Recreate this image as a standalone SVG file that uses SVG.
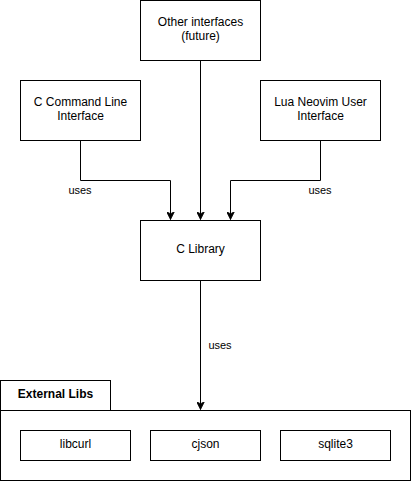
<svg xmlns="http://www.w3.org/2000/svg" width="411" height="481" viewBox="0 0 411 481">
<style>
.box{fill:#fff;stroke:#000;stroke-width:1}
.t{font-family:"Liberation Sans",Arial,sans-serif;font-size:12px;fill:#000;text-anchor:middle}
.b{font-weight:bold}
.lbl{font-family:"Liberation Sans",Arial,sans-serif;font-size:11px;fill:#000;text-anchor:middle}
.e{fill:none;stroke:#000;stroke-width:1}
</style>
<defs>
<marker id="arr" viewBox="0 0 10 10" refX="10" refY="5" markerWidth="8" markerHeight="8" markerUnits="userSpaceOnUse" orient="auto">
<path d="M0,0 L10,5 L0,10 L3,5 Z" fill="#000" stroke="#000" stroke-width="1"/>
</marker>
</defs>
<rect width="411" height="481" fill="#fff"/>
<g id="edges">
<path class="e" d="M80.5,140.5 V180.5 H170.5 V219.5" marker-end="url(#arr)"/>
<path class="e" d="M200.5,60.5 V219.5" marker-end="url(#arr)"/>
<path class="e" d="M320.5,140.5 V180.5 H230.5 V219.5" marker-end="url(#arr)"/>
<path class="e" d="M200.5,280.5 V409.5" marker-end="url(#arr)"/>
<text class="lbl" x="80" y="194">uses</text>
<text class="lbl" x="320" y="194">uses</text>
<text class="lbl" x="220" y="349">uses</text>
</g>
<g id="other">
<rect class="box" x="140.5" y="0.5" width="120" height="60"/>
<text class="t" x="200.5" y="26">Other interfaces</text>
<text class="t" x="200.5" y="40">(future)</text>
</g>
<g id="cli">
<rect class="box" x="20.5" y="80.5" width="120" height="60"/>
<text class="t" x="80.5" y="106">C Command Line</text>
<text class="t" x="80.5" y="120">Interface</text>
</g>
<g id="lua">
<rect class="box" x="260.5" y="80.5" width="120" height="60"/>
<text class="t" x="320.5" y="106">Lua Neovim User</text>
<text class="t" x="320.5" y="120">Interface</text>
</g>
<g id="clib">
<rect class="box" x="140.5" y="220.5" width="120" height="60"/>
<text class="t" x="200.5" y="253">C Library</text>
</g>
<g id="external">
<rect class="box" x="0.5" y="380.5" width="110" height="30"/>
<text class="t b" x="55.5" y="398">External Libs</text>
<rect class="box" x="0.5" y="410.5" width="410" height="70"/>
</g>
<g id="libcurl">
<rect class="box" x="20.5" y="430.5" width="110" height="30"/>
<text class="t" x="75.5" y="448">libcurl</text>
</g>
<g id="cjson">
<rect class="box" x="150.5" y="430.5" width="110" height="30"/>
<text class="t" x="205.5" y="448">cjson</text>
</g>
<g id="sqlite3">
<rect class="box" x="280.5" y="430.5" width="110" height="30"/>
<text class="t" x="335.5" y="448">sqlite3</text>
</g>
</svg>
